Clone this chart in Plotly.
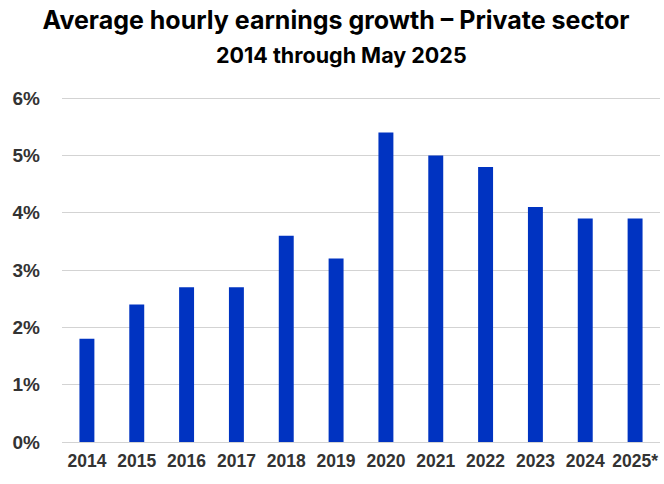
import plotly.graph_objects as go

years = ["2014", "2015", "2016", "2017", "2018", "2019", "2020", "2021", "2022", "2023", "2024", "2025*"]
growth = [1.8, 2.4, 2.7, 2.7, 3.6, 3.2, 5.4, 5.0, 4.8, 4.1, 3.9, 3.9]
y_ticks = [0, 1, 2, 3, 4, 5, 6]
y_tick_labels = ["0%", "1%", "2%", "3%", "4%", "5%", "6%"]

W, H = 664, 484
fig = go.Figure(go.Bar(x=years, y=growth, marker_color="#0033C1", marker_line_width=0, hoverinfo="x+y"))

fig.update_layout(
    width=W, height=H,
    margin=dict(l=62, r=4, t=97, b=42),
    paper_bgcolor="white", plot_bgcolor="white",
    bargap=0.7,
    showlegend=False,
    font=dict(family="Liberation Sans, Arial, sans-serif", color="#333333"),
    title=dict(text="<b>Average hourly earnings growth – Private sector</b>",
               x=336 / W, xref="container", xanchor="center",
               y=1 - 20 / H, yref="container", yanchor="middle",
               font=dict(size=25, color="#000000", family="Inter, Roboto, sans-serif")),
    annotations=[
        dict(text="<b>2014 through May 2025</b>", x=0.467, y=1, xref="paper", yref="paper",
             xanchor="center", yanchor="middle", showarrow=False,
             font=dict(size=21.5, color="#000000", family="Inter, Roboto, sans-serif"), yshift=42),
    ],
)

fig.update_xaxes(showgrid=False, showline=False, ticks="",
                 tickfont=dict(size=17.5, color="#333333", family="Liberation Sans, Arial, sans-serif"),
                 tickprefix="<b>", ticksuffix="</b>", ticklabelstandoff=6)
fig.update_yaxes(range=[0, 6.02], tickvals=y_ticks, ticktext=["<b>" + t + "</b>" for t in y_tick_labels],
                 showgrid=True, gridcolor="#d3d3d3", gridwidth=1, zeroline=True, zerolinecolor="#d3d3d3", zerolinewidth=1,
                 tickfont=dict(size=19, color="#333333", family="Liberation Sans, Arial, sans-serif"),
                 ticklabelstandoff=21, showline=False, ticks="")

# remove the default 8px page margin so the figure fills the window exactly
fig.write_html("out.html", config={"displayModeBar": False},
               post_script="document.body.style.margin='0';document.body.style.overflow='hidden';")
